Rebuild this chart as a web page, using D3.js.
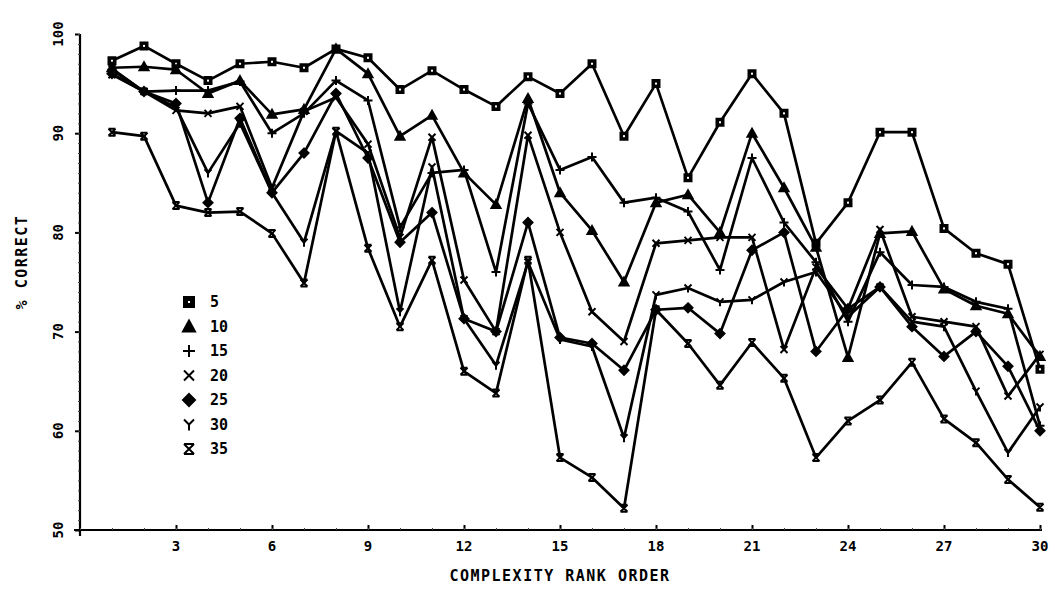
<!DOCTYPE html>
<html><head><meta charset="utf-8">
<script src="https://cdn.jsdelivr.net/npm/d3@7"></script>
<style>body{margin:0;background:#fff}</style>
</head><body>
<svg id="c" width="1055" height="590"></svg>
<script>
const rank = d3.range(1, 31);
const seriesNames = ["5", "10", "15", "20", "25", "30", "35"];
const s5  = [97.3,98.8,97.0,95.3,97.0,97.2,96.6,98.5,97.6,94.4,96.3,94.4,92.7,95.7,94.0,97.0,89.7,95.0,85.5,91.1,96.0,92.0,78.9,83.0,90.1,90.1,80.4,77.9,76.8,66.2];
const s10 = [96.6,96.7,96.4,94.0,95.3,91.9,92.4,98.5,96.0,89.7,91.8,86.0,82.8,93.5,84.0,80.2,75.0,83.0,83.8,80.0,90.0,84.5,78.5,67.4,79.9,80.1,74.3,72.6,71.8,67.5];
const s15 = [96.4,94.2,94.3,94.3,95.2,90.0,92.0,95.3,93.3,80.5,86.0,86.3,76.0,93.0,86.3,87.6,83.0,83.5,82.1,76.2,87.5,81.0,77.0,71.0,78.0,74.7,74.5,73.0,72.3,60.5];
const s20 = [95.9,94.2,92.3,92.0,92.7,84.5,92.2,93.6,88.9,79.5,89.6,75.2,70.0,89.8,80.0,72.0,69.0,78.9,79.2,79.5,79.5,68.2,76.5,72.3,80.3,71.5,71.0,70.5,63.5,67.7];
const s25 = [96.0,94.2,93.0,83.0,91.5,84.0,88.0,94.0,87.5,79.0,82.0,71.3,70.0,81.0,69.4,68.8,66.1,72.2,72.4,69.8,78.2,80.0,68.0,72.3,74.5,70.5,67.5,70.0,66.5,60.0];
const s30 = [96.5,94.2,92.6,86.0,91.0,84.0,79.0,90.2,88.0,72.0,86.6,71.3,66.6,77.0,69.2,68.5,59.3,73.7,74.4,73.0,73.2,75.0,76.0,71.5,74.5,71.0,70.5,64.0,57.8,62.4];
const s35 = [90.1,89.7,82.7,82.0,82.1,79.9,74.9,90.2,78.4,70.5,77.2,66.0,63.8,77.2,57.3,55.3,52.2,72.2,68.8,64.6,68.9,65.3,57.3,61.0,63.1,66.9,61.2,58.8,55.1,52.3];
const xTicks = [3,6,9,12,15,18,21,24,27,30];
const yTicks = [50,60,70,80,90,100];
const xTitle = "COMPLEXITY RANK ORDER";
const yTitle = "% CORRECT";

const allSeries = [s5,s10,s15,s20,s25,s30,s35];
const markers = ["square","triangle","plus","cross","diamond","y","boxx"];

const svg = d3.select("#c");
const x = d3.scaleLinear().domain([0,30]).range([80,1040]);
const y = d3.scaleLinear().domain([50,100]).range([530,34]);
const font = "'DejaVu Sans Mono', monospace";

// axes
const yAxis = d3.axisLeft(y).tickValues(yTicks).tickSize(5).tickFormat("");
const gy = svg.append("g").attr("transform","translate(80,0)").call(yAxis);
gy.select(".domain").attr("stroke","#000").attr("stroke-width",2.2).attr("d","M0,34V536");
gy.selectAll(".tick line").attr("stroke","#000").attr("stroke-width",2);
const yMinor = d3.axisLeft(y).tickValues(d3.range(50,101,1)).tickSize(2).tickFormat("");
svg.append("g").attr("transform","translate(80,0)").call(yMinor)
  .call(g=>g.select(".domain").remove())
  .selectAll(".tick line").attr("stroke","#444").attr("stroke-width",1);

const xAxis = d3.axisBottom(x).tickValues(xTicks).tickSize(-5).tickFormat("");
const gx = svg.append("g").attr("transform","translate(0,530)").call(xAxis);
gx.select(".domain").attr("stroke","#000").attr("stroke-width",2.2).attr("d","M74,0H1042");
gx.selectAll(".tick line").attr("stroke","#000").attr("stroke-width",2);
const xMinor = d3.axisBottom(x).tickValues(d3.range(0,31,1)).tickSize(-2).tickFormat("");
svg.append("g").attr("transform","translate(0,530)").call(xMinor)
  .call(g=>g.select(".domain").remove())
  .selectAll(".tick line").attr("stroke","#444").attr("stroke-width",1);

// tick labels
svg.append("g").selectAll("text").data(xTicks).join("text")
  .attr("x",d=>x(d)).attr("y",551).attr("text-anchor","middle")
  .attr("font-family",font).attr("font-weight","bold").attr("font-size",14).text(d=>d);
svg.append("g").selectAll("text").data(yTicks).join("text")
  .attr("transform",d=>`translate(63,${y(d)}) rotate(-90)`).attr("text-anchor","middle")
  .attr("font-family",font).attr("font-weight","bold").attr("font-size",14).text(d=>d);
svg.append("text").attr("x",x(15)).attr("y",581).attr("text-anchor","middle")
  .attr("font-family",font).attr("font-weight","bold").attr("font-size",15).attr("letter-spacing",1.5).text(xTitle);
svg.append("text").attr("transform","translate(27,262) rotate(-90)").attr("text-anchor","middle")
  .attr("font-family",font).attr("font-weight","bold").attr("font-size",15).attr("letter-spacing",1.5).text(yTitle);

// markers
function drawMarker(g, type, cx, cy, s){
  const h = s/2;
  const p = (d,fill)=>g.append("path").attr("d",d).attr("stroke","#000").attr("stroke-width",2).attr("fill",fill||"none");
  if(type==="square"){ p(`M${cx-h},${cy-h}h${s}v${s}h${-s}z`,"#000"); g.append("rect").attr("x",cx-1).attr("y",cy-1).attr("width",2).attr("height",2).attr("fill","#fff"); }
  else if(type==="triangle"){ p(`M${cx},${cy-h-1}L${cx+h+1},${cy+h}L${cx-h-1},${cy+h}z`,"#000"); }
  else if(type==="plus"){ p(`M${cx-h-1},${cy}H${cx+h+1}M${cx},${cy-h-1}V${cy+h+1}`); }
  else if(type==="cross"){ p(`M${cx-h},${cy-h}L${cx+h},${cy+h}M${cx+h},${cy-h}L${cx-h},${cy+h}`); }
  else if(type==="diamond"){ p(`M${cx},${cy-h-1}L${cx+h+1},${cy}L${cx},${cy+h+1}L${cx-h-1},${cy}z`,"#000"); }
  else if(type==="y"){ p(`M${cx-h},${cy-h}L${cx},${cy}L${cx+h},${cy-h}M${cx},${cy}V${cy+h+1}`); }
  else if(type==="boxx"){ p(`M${cx-h},${cy-h}L${cx+h},${cy+h}M${cx+h},${cy-h}L${cx-h},${cy+h}M${cx-h},${cy-h}H${cx+h}M${cx-h},${cy+h}H${cx+h}`); }
}

const line = d3.line().x((d,i)=>x(rank[i])).y(d=>y(d));
const plot = svg.append("g");
allSeries.forEach((s,k)=>{
  plot.append("path").datum(s).attr("d",line).attr("fill","none")
    .attr("stroke","#000").attr("stroke-width",2.7).attr("stroke-linejoin","round");
});
allSeries.forEach((s,k)=>{
  const g = plot.append("g");
  s.forEach((v,i)=>drawMarker(g, markers[k], x(rank[i]), y(v), 7));
});

// legend
const lg = svg.append("g");
seriesNames.forEach((n,i)=>{
  const yy = 302 + i*24.5;
  drawMarker(lg, markers[i], 189, yy, 10);
  lg.append("text").attr("x",210).attr("y",yy+5).attr("font-family",font)
    .attr("font-weight","bold").attr("font-size",15).text(n);
});
</script>
</body></html>
